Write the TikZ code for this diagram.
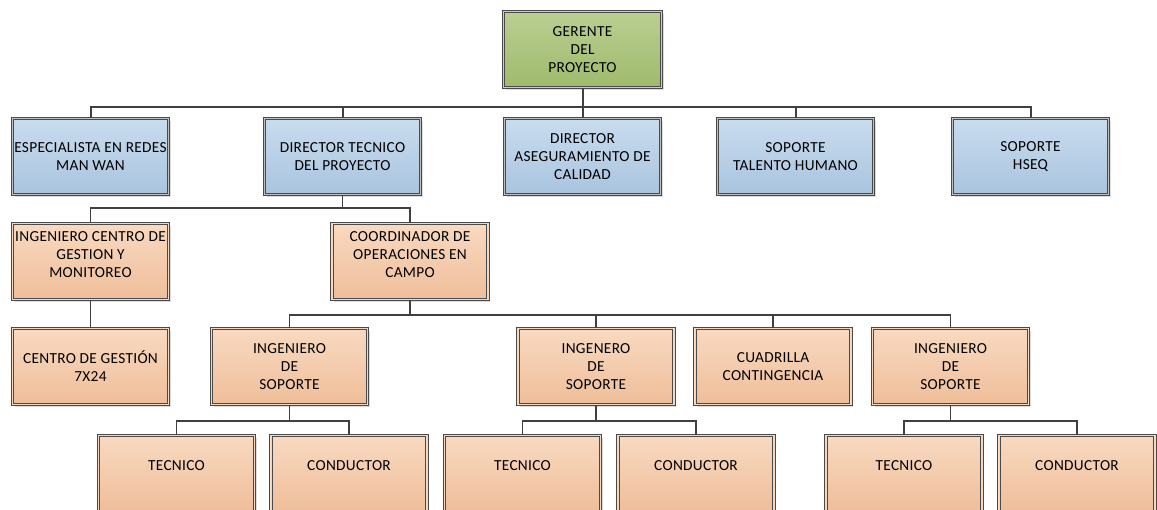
\documentclass[tikz,border=0pt]{standalone}
\usepackage{fontspec}
\setmainfont{Carlito}
\usetikzlibrary{shadows}
\definecolor{bluetop}{HTML}{C9DCEE}
\definecolor{bluebot}{HTML}{A9C4DF}
\definecolor{orgtop}{HTML}{F8D9C0}
\definecolor{orgbot}{HTML}{EFBE9A}
\definecolor{grntop}{HTML}{BACF92}
\definecolor{grnbot}{HTML}{9FBA6C}
\definecolor{frame}{HTML}{4A4A4A}
\definecolor{wire}{HTML}{404040}
\begin{document}
\begin{tikzpicture}[x=0.75pt,y=-0.75pt,
  box/.style={rectangle, draw=frame, line width=0.9pt, double distance=0.9pt,
    minimum width=156*0.75pt, minimum height=76*0.75pt, inner sep=1pt,
    align=center, font=\fontsize{11.5}{13.4}\selectfont\addfontfeature{LetterSpace=2},
    drop shadow={shadow xshift=1.6pt, shadow yshift=-1.6pt, fill=black!14, opacity=1}},
  bluebox/.style={box, top color=bluetop, bottom color=bluebot, double=black!25},
  orgbox/.style={box, top color=orgtop, bottom color=orgbot, double=orgbot!60!white},
  grnbox/.style={box, top color=grntop, bottom color=grnbot, double=grnbot!60!white},
  upthree/.style={text depth=11pt},
  upone/.style={text depth=12.5pt},
  wirebig/.style={draw=wire, line width=1.5pt},
  wiresm/.style={draw=wire, line width=1.1pt}]
\useasboundingbox (0,0) rectangle (1157,510);

% level 1
\node[grnbox, minimum width=158*0.75pt] (g) at (582.5,49.5) {GERENTE\\DEL\\PROYECTO};

% level 2
\node[bluebox] (esp) at (90.5,156.5) {ESPECIALISTA EN REDES\\MAN WAN};
\node[bluebox] (dt) at (342.5,156.5) {DIRECTOR TECNICO\\DEL PROYECTO};
\node[bluebox] (da) at (582.5,156.5) {DIRECTOR\\ASEGURAMIENTO DE\\CALIDAD};
\node[bluebox] (th) at (795.5,156.5) {SOPORTE\\TALENTO HUMANO};
\node[bluebox] (hs) at (1030.5,156.5) {SOPORTE\\HSEQ};

% level 3
\node[orgbox, upthree] (icg) at (90.5,261.5) {INGENIERO CENTRO DE\\GESTION Y\\MONITOREO};
\node[orgbox, upthree] (coo) at (410,261.5) {COORDINADOR DE\\OPERACIONES EN\\CAMPO};

% level 4
\node[orgbox] (cg) at (90.5,366.5) {CENTRO DE GESTIÓN\\7X24};
\node[orgbox] (is1) at (289.5,366.5) {INGENIERO\\DE\\SOPORTE};
\node[orgbox] (is2) at (596,366.5) {INGENERO\\DE\\SOPORTE};
\node[orgbox] (cua) at (773,366.5) {CUADRILLA\\CONTINGENCIA};
\node[orgbox] (is3) at (950.5,366.5) {INGENIERO\\DE\\SOPORTE};

% level 5
\node[orgbox, upone] (t1) at (176.5,473.5) {TECNICO};
\node[orgbox, upone] (c1) at (349,473.5) {CONDUCTOR};
\node[orgbox, upone] (t2) at (522.5,473.5) {TECNICO};
\node[orgbox, upone] (c2) at (696,473.5) {CONDUCTOR};
\node[orgbox, upone] (t3) at (904,473.5) {TECNICO};
\node[orgbox, upone] (c3) at (1077,473.5) {CONDUCTOR};

% bus levels
\coordinate (b1) at (0,107);
\coordinate (b2) at (0,208);
\coordinate (b3) at (0,315);
\coordinate (b4) at (0,421);

\foreach \c in {esp,dt,da,th,hs}
  \draw[wirebig] (g.south) -- (g.south |- b1) -| (\c.north);
\foreach \c in {icg,coo}
  \draw[wiresm] (dt.south) -- (dt.south |- b2) -| (\c.north);
\draw[wiresm] (icg.south) -- (cg.north);
\foreach \c in {is1,is2,cua,is3}
  \draw[wiresm] (coo.south) -- (coo.south |- b3) -| (\c.north);
\foreach \c in {t1,c1}
  \draw[wiresm] (is1.south) -- (is1.south |- b4) -| (\c.north);
\foreach \c in {t2,c2}
  \draw[wiresm] (is2.south) -- (is2.south |- b4) -| (\c.north);
\foreach \c in {t3,c3}
  \draw[wiresm] (is3.south) -- (is3.south |- b4) -| (\c.north);
\end{tikzpicture}
\end{document}
